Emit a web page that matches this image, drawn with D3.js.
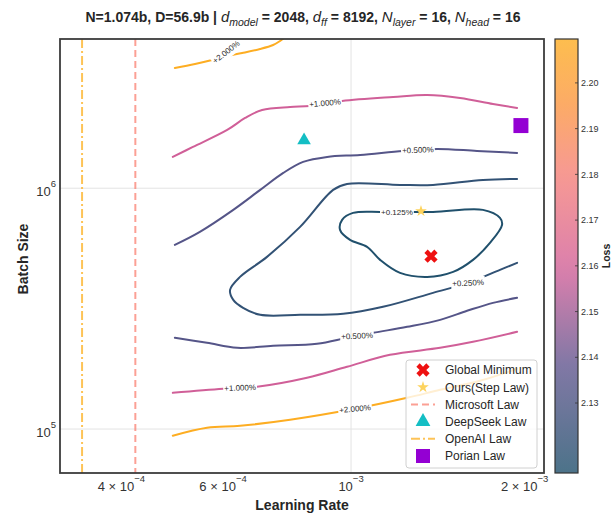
<!DOCTYPE html>
<html><head><meta charset="utf-8">
<script src="https://cdn.jsdelivr.net/npm/d3@7"></script>
<style>
body{margin:0;background:#fff}
svg{display:block}
text{font-family:"Liberation Sans",Arial,sans-serif}
</style>
</head><body>
<svg id="c" width="616" height="515"></svg>
<script>
// ---------------- data ----------------
const xDomain = [3.13e-4, 2.16e-3];
const yDomain = [6.57e4, 4.164e6];
const xTicks = [4e-4, 6e-4, 1e-3, 2e-3];
const xTickMantissa = ["4", "6", "", "2"];
const xTickExp = ["−4", "−4", "−3", "−3"];
const yTicks = [1e5, 1e6];
const yTickExp = ["5", "6"];

const levelPct = [0.125, 0.25, 0.5, 1, 2];

// contour paths: [learning rate, batch size]
const c0125 = [[1.132e-3,7.973e5],[1.387e-3,7.973e5],[1.693e-3,8.128e5],[1.812e-3,7.528e5],[1.827e-3,7.042e5],
  [1.741e-3,5.929e5],[1.627e-3,5.041e5],[1.503e-3,4.494e5],[1.355e-3,4.284e5],[1.216e-3,4.452e5],
  [1.123e-3,5.041e5],[1.066e-3,5.707e5],[9.96e-4,6.101e5],[9.57e-4,6.714e5],[9.65e-4,7.386e5],[1.008e-3,7.897e5]];
const c025 = [[1.940e-3,1.093e6],[1.693e-3,1.082e6],[1.387e-3,1.032e6],[1.216e-3,1.032e6],[9.84e-4,1.042e6],
  [9.31e-4,9.838e5],[8.16e-4,6.909e5],[7.15e-4,5.187e5],[6.42e-4,4.284e5],[6.17e-4,3.784e5],[6.25e-4,3.439e5],
  [6.50e-4,3.187e5],[6.96e-4,2.980e5],[8.16e-4,2.980e5],[9.69e-4,3.009e5],[1.136e-3,3.217e5],[1.387e-3,3.677e5],
  [1.595e-3,4.046e5],[1.812e-3,4.581e5],[1.940e-3,4.898e5]];
const c05Upper = [[4.95e-4,5.816e5],[5.47e-4,6.587e5],[6.25e-4,8.128e5],[6.96e-4,9.838e5],[7.63e-4,1.157e6],
  [8.26e-4,1.286e6],[9.09e-4,1.349e6],[1.037e-3,1.375e6],[1.231e-3,1.428e6],[1.410e-3,1.456e6],
  [1.653e-3,1.428e6],[1.940e-3,1.401e6]];
const c05Lower = [[4.95e-4,2.392e5],[5.628e-4,2.280e5],[6.346e-4,2.174e5],[7.327e-4,2.216e5],[8.73e-4,2.258e5],
  [9.842e-4,2.392e5],[1.092e-3,2.509e5],[1.251e-3,2.657e5],[1.427e-3,2.841e5],[1.589e-3,3.097e5],
  [1.762e-3,3.342e5],[1.940e-3,3.506e5]];
const c1Upper = [[4.91e-4,1.349e6],[5.32e-4,1.484e6],[6.10e-4,1.746e6],[6.552e-4,1.957e6],[7.012e-4,2.113e6],
  [7.841e-4,2.174e6],[8.49e-4,2.195e6],[9.65e-4,2.302e6],[1.183e-3,2.392e6],[1.355e-3,2.438e6],[1.545e-3,2.370e6],
  [1.762e-3,2.238e6],[1.940e-3,2.154e6]];
const c1Lower = [[4.91e-4,1.414e5],[6.002e-4,1.470e5],[6.873e-4,1.498e5],[8.389e-4,1.632e5],[9.842e-4,1.814e5],
  [1.168e-3,2.033e5],[1.427e-3,2.174e5],[1.627e-3,2.302e5],[1.940e-3,2.533e5]];
const c2Upper = [[4.95e-4,3.157e6],[5.365e-4,3.280e6],[5.742e-4,3.407e6],[6.098e-4,3.540e6],[6.475e-4,3.642e6],
  [6.956e-4,3.784e6],[7.327e-4,3.932e6],[7.535e-4,4.086e6],[7.655e-4,4.205e6]];
const c2Lower = [[4.91e-4,0.938e5],[5.628e-4,1.012e5],[6.423e-4,1.032e5],[7.841e-4,1.093e5],[1.016e-3,1.214e5],
  [1.251e-3,1.348e5],[1.427e-3,1.456e5],[1.673e-3,1.586e5],[1.940e-3,1.779e5]];

const contourPct = [0.125, 0.25, 0.5, 0.5, 1, 1, 2, 2];
const contourPaths = [c0125, c025, c05Upper, c05Lower, c1Upper, c1Lower, c2Upper, c2Lower];
const contourClosed = [true, false, false, false, false, false, false, false];

// contour labels: text, lr, bs, angle
const labelText = ["+0.125%", "+0.250%", "+0.500%", "+0.500%", "+1.000%", "+1.000%", "+2.000%", "+2.000%"];
const labelLR = [1.201e-3, 1.595e-3, 1.306e-3, 1.024e-3, 0.9015e-3, 6.423e-4, 6.073e-4, 1.016e-3];
const labelBS = [7.973e5, 4.046e5, 1.442e6, 2.438e5, 2.259e6, 1.484e5, 3.678e6, 1.214e5];
const labelAngle = [0, -3, -2, -3, -5, -2, -38, -5];

// reference points
const globalMin = [1.376e-3, 5.22e5];
const stepLaw = [1.322e-3, 8.03e5];
const deepSeek = [8.29e-4, 1.58e6];
const porian = [1.97e-3, 1.82e6];
const microsoftLR = 4.228e-4;
const openaiLR = 3.418e-4;

const legendItems = ["Global Minimum", "Ours(Step Law)", "Microsoft Law", "DeepSeek Law", "OpenAI Law", "Porian Law"];

const lossDomain = [2.1147, 2.2096];
const cbarTicks = [2.13, 2.14, 2.15, 2.16, 2.17, 2.18, 2.19, 2.20];
const cmapStops = [0, 0.25, 0.47, 0.69, 0.85, 1];
const cmapColors = ["#20506c", "#62568f", "#d25f98", "#f58078", "#fb9640", "#fdad22"];

// ---------------- layout ----------------
const L = 60, R = 544, T = 39, B = 473;
const svg = d3.select("#c");
const x = d3.scaleLog().domain(xDomain).range([L, R]);
const y = d3.scaleLog().domain(yDomain).range([B, T]);
const cmap = d3.scaleLinear().domain(cmapStops).range(cmapColors).interpolate(d3.interpolateRgb);
const levelNorm = d3.scaleLinear().domain([levelPct[0], levelPct[levelPct.length-1]]).range([0,1]);

const defs = svg.append("defs");
defs.append("clipPath").attr("id","plotclip").append("rect")
  .attr("x",L).attr("y",T).attr("width",R-L).attr("height",B-T);

// grid
const grid = svg.append("g");
grid.selectAll("line.gx").data([1e-3]).join("line")
  .attr("x1",d=>x(d)).attr("x2",d=>x(d)).attr("y1",T).attr("y2",B)
  .attr("stroke","#e3e3e3").attr("stroke-width",1);
grid.selectAll("line.gy").data(yTicks).join("line")
  .attr("y1",d=>y(d)).attr("y2",d=>y(d)).attr("x1",L).attr("x2",R)
  .attr("stroke","#e3e3e3").attr("stroke-width",1);

const plot = svg.append("g").attr("clip-path","url(#plotclip)");

// vertical law lines
plot.append("line").attr("x1",x(openaiLR)).attr("x2",x(openaiLR)).attr("y1",T).attr("y2",B)
  .attr("stroke","#fdb93a").attr("stroke-opacity",0.85).attr("stroke-width",2).attr("stroke-dasharray","9,3,2,3");
plot.append("line").attr("x1",x(microsoftLR)).attr("x2",x(microsoftLR)).attr("y1",T).attr("y2",B)
  .attr("stroke","#fa8072").attr("stroke-opacity",0.75).attr("stroke-width",2).attr("stroke-dasharray","7,4");

// label mask
const mask = defs.append("mask").attr("id","labmask").attr("maskUnits","userSpaceOnUse")
  .attr("x",0).attr("y",0).attr("width",616).attr("height",515);
mask.append("rect").attr("x",0).attr("y",0).attr("width",616).attr("height",515).attr("fill","#fff");

const lineGen = d3.line().x(d=>x(d[0])).y(d=>y(d[1]));
const cg = plot.append("g").attr("mask","url(#labmask)");
contourPaths.forEach((pts,i)=>{
  lineGen.curve(contourClosed[i] ? d3.curveCatmullRomClosed.alpha(0.5) : d3.curveCatmullRom.alpha(0.5));
  cg.append("path").attr("d", lineGen(pts)).attr("fill","none")
    .attr("stroke", cmap(levelNorm(contourPct[i]))).attr("stroke-width",2)
    .attr("stroke-linejoin","round").attr("stroke-linecap","round");
});

// labels
const lg = plot.append("g");
labelText.forEach((t,i)=>{
  const px = x(labelLR[i]), py = y(labelBS[i]);
  const tr = `translate(${px},${py}) rotate(${labelAngle[i]})`;
  const el = lg.append("text").attr("transform",tr).attr("text-anchor","middle")
    .attr("dy","0.35em").attr("font-size",8).attr("fill","#2a2a2a").text(t);
  const bb = el.node().getBBox();
  mask.append("rect").attr("transform",tr).attr("x",bb.x-1).attr("y",bb.y-2)
    .attr("width",bb.width+2).attr("height",bb.height+4).attr("fill","#000");
});

// markers
const sym = (type,size)=>d3.symbol().type(type).size(size)();
const mk = svg.append("g");
mk.append("path").attr("d",sym(d3.symbolCross,110))
  .attr("transform",`translate(${x(globalMin[0])},${y(globalMin[1])}) rotate(45)`).attr("fill","#ee1111");
mk.append("path").attr("d",sym(d3.symbolStar,42))
  .attr("transform",`translate(${x(stepLaw[0])},${y(stepLaw[1])})`).attr("fill","#fdd35e");
mk.append("path").attr("d",sym(d3.symbolTriangle,80))
  .attr("transform",`translate(${x(deepSeek[0])},${y(deepSeek[1])})`).attr("fill","#14bec4");
mk.append("path").attr("d",sym(d3.symbolSquare,225))
  .attr("transform",`translate(${x(porian[0])},${y(porian[1])})`).attr("fill","#9400d3");

// legend
const leg = svg.append("g");
leg.append("rect").attr("x",406).attr("y",360).attr("width",131).attr("height",108).attr("rx",3)
  .attr("fill","#fff").attr("fill-opacity",0.8).attr("stroke","#d0d0d0").attr("stroke-width",1);
const ly = i => 370 + i*17.2;
const mx = 423;
leg.append("path").attr("d",sym(d3.symbolCross,110)).attr("transform",`translate(${mx},${ly(0)}) rotate(45)`).attr("fill","#ee1111");
leg.append("path").attr("d",sym(d3.symbolStar,42)).attr("transform",`translate(${mx},${ly(1)})`).attr("fill","#fdd35e");
leg.append("line").attr("x1",mx-12).attr("x2",mx+12).attr("y1",ly(2)).attr("y2",ly(2))
  .attr("stroke","#fa8072").attr("stroke-opacity",0.75).attr("stroke-width",2).attr("stroke-dasharray","7,4");
leg.append("path").attr("d",sym(d3.symbolTriangle,95)).attr("transform",`translate(${mx},${ly(3)})`).attr("fill","#14bec4");
leg.append("line").attr("x1",mx-12).attr("x2",mx+12).attr("y1",ly(4)).attr("y2",ly(4))
  .attr("stroke","#fdb93a").attr("stroke-opacity",0.85).attr("stroke-width",2).attr("stroke-dasharray","9,3,2,3");
leg.append("path").attr("d",sym(d3.symbolSquare,196)).attr("transform",`translate(${mx},${ly(5)})`).attr("fill","#9400d3");
leg.selectAll("text.li").data(legendItems).join("text")
  .attr("x",445).attr("y",(d,i)=>ly(i)).attr("dy","0.36em").attr("font-size",12).attr("fill","#262626").text(d=>d);

// spines
svg.append("rect").attr("x",L).attr("y",T).attr("width",R-L).attr("height",B-T)
  .attr("fill","none").attr("stroke","#3c3c3c").attr("stroke-width",1.8);

// x tick labels
xTicks.forEach((v,i)=>{
  const t = svg.append("text").attr("x",x(v)).attr("y",491).attr("text-anchor","middle")
    .attr("font-size",13).attr("fill","#333");
  t.append("tspan").text(xTickMantissa[i] ? xTickMantissa[i] + " × 10" : "10");
  t.append("tspan").attr("dy",-9).attr("font-size",9.5).text(xTickExp[i]);
});
// y tick labels
yTicks.forEach((v,i)=>{
  const t = svg.append("text").attr("x",56).attr("y",y(v)+8).attr("text-anchor","end")
    .attr("font-size",13).attr("fill","#333");
  t.append("tspan").text("10");
  t.append("tspan").attr("dy",-9).attr("font-size",9.5).text(yTickExp[i]);
});

// axis labels
svg.append("text").attr("x",(L+R)/2).attr("y",510).attr("text-anchor","middle")
  .attr("font-size",14).attr("font-weight","bold").attr("fill","#262626").text("Learning Rate");
svg.append("text").attr("transform",`translate(28,${(T+B)/2+3}) rotate(-90)`).attr("text-anchor","middle")
  .attr("font-size",14).attr("font-weight","bold").attr("fill","#262626").text("Batch Size");

// title
const title = svg.append("text").attr("x",(L+R)/2+1).attr("y",22).attr("text-anchor","middle")
  .attr("font-size",14).attr("font-weight","bold").attr("fill","#262626");
const titleParts = [
  ["N=1.074b, D=56.9b | ","b"],["d","i"],["model","s"],[" = 2048, ","b"],
  ["d","i"],["ff","s"],[" = 8192, ","b"],["N","i"],["layer","s"],[" = 16, ","b"],
  ["N","i"],["head","s"],[" = 16","b"]];
let sub = false;
titleParts.forEach(([txt,kind])=>{
  const ts = title.append("tspan").text(txt);
  if (kind==="i") { ts.attr("font-style","italic").attr("font-weight","normal").attr("font-size",15); if(sub){ts.attr("dy",-3.5); sub=false;} }
  else if (kind==="s") { ts.attr("font-style","italic").attr("font-weight","normal").attr("font-size",10.5).attr("dy",3.5); sub=true; }
  else { if(sub){ts.attr("dy",-3.5); sub=false;} }
});

// colorbar
const cbX = 555, cbW = 23;
const cy = d3.scaleLinear().domain(lossDomain).range([B, T]);
const grad = defs.append("linearGradient").attr("id","cbgrad").attr("x1",0).attr("y1",1).attr("x2",0).attr("y2",0);
d3.range(0,1.0001,0.05).forEach(t=>{
  grad.append("stop").attr("offset",t).attr("stop-color",cmap(t));
});
svg.append("rect").attr("x",cbX).attr("y",T).attr("width",cbW).attr("height",B-T)
  .attr("fill","url(#cbgrad)").attr("fill-opacity",0.8);
svg.append("rect").attr("x",cbX).attr("y",T).attr("width",cbW).attr("height",B-T)
  .attr("fill","none").attr("stroke","#333").attr("stroke-width",1.2);
cbarTicks.forEach(v=>{
  svg.append("line").attr("x1",cbX+cbW-3).attr("x2",cbX+cbW).attr("y1",cy(v)).attr("y2",cy(v))
    .attr("stroke","#333").attr("stroke-width",0.8);
  svg.append("text").attr("x",cbX+cbW+3).attr("y",cy(v)).attr("dy","0.35em")
    .attr("font-size",9).attr("fill","#333").text(v.toFixed(2));
});
svg.append("text").attr("transform",`translate(610,${(T+B)/2}) rotate(-90)`).attr("text-anchor","middle")
  .attr("font-size",10.5).attr("font-weight","bold").attr("fill","#262626").text("Loss");
</script>
</body></html>
